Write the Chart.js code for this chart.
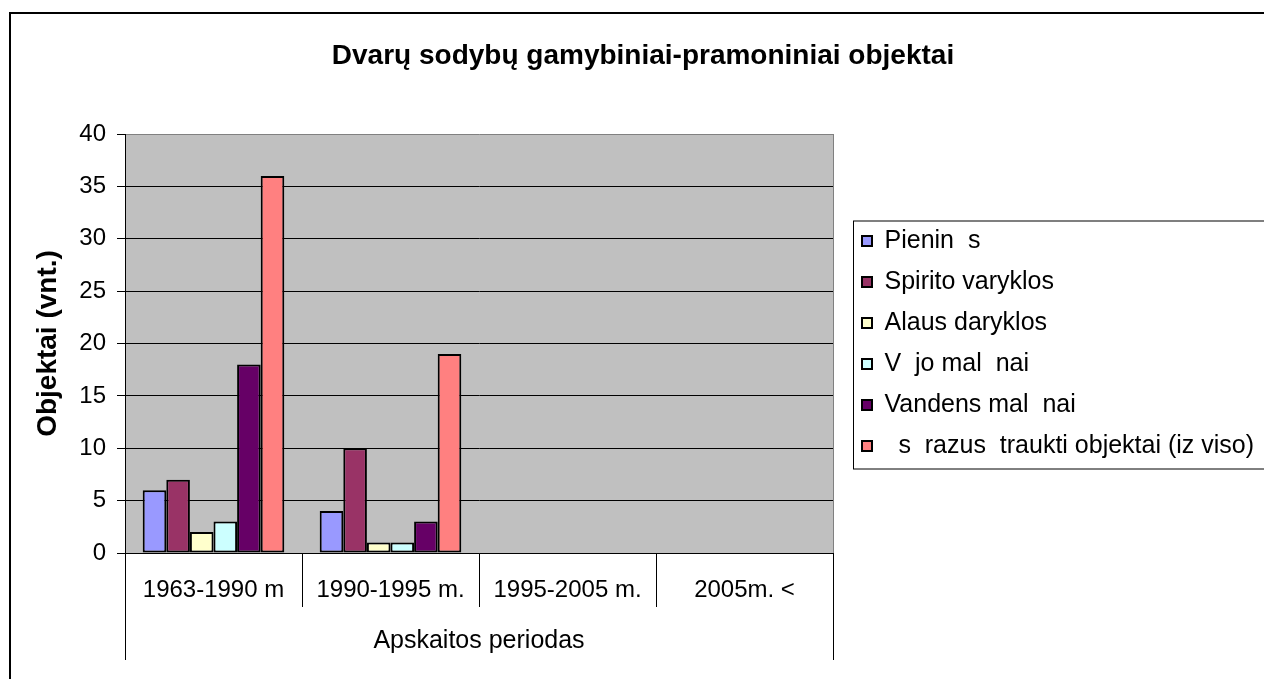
<!DOCTYPE html>
<html lang="lt">
<head>
  <meta charset="UTF-8">
  <title>Dvarų sodybų gamybiniai-pramoniniai objektai</title>
  <script src="https://cdn.jsdelivr.net/npm/chart.js"></script>
  <style>
    body { margin: 0; background: #fff; }
    #wrap { width: 1264px; height: 679px; }
  </style>
</head>
<body>
  <div id="wrap"><canvas id="chart" width="1264" height="679"></canvas></div>
  <script>
    // duomenys
    var periods = ['1963-1990 m', '1990-1995 m.', '1995-2005 m.', '2005m. <'];
    var seriesNames = ['Pienin  s', 'Spirito varyklos', 'Alaus daryklos', 'V  jo mal  nai', 'Vandens mal  nai', '  s  razus  traukti objektai (iz viso)'];
    var pieninesVals = [6, 4, null, null];
    var spiritoVals = [7, 10, null, null];
    var alausVals = [2, 1, null, null];
    var vejoVals = [3, 1, null, null];
    var vandensVals = [18, 3, null, null];
    var isVisoVals = [36, 19, null, null];
    var yMin = 0, yMax = 40, yStep = 5;

    var colors = ['#9999FF', '#993366', '#FFFFCC', '#CCFFFF', '#660066', '#FF8080'];
    var FONT = "'Liberation Sans', Arial, sans-serif";
    var LEGEND_W = 431;

    var allVals = [pieninesVals, spiritoVals, alausVals, vejoVals, vandensVals, isVisoVals];
    var datasets = allVals.map(function (vals, i) {
      return {
        label: seriesNames[i],
        data: vals,
        backgroundColor: colors[i],
        borderColor: '#000',
        borderWidth: 2,
        borderSkipped: false,
        categoryPercentage: 0.8,
        barPercentage: 1
      };
    });

    // fonas, rėmeliai ir antro lygio ašies linijos
    var decor = {
      id: 'decor',
      beforeLayout: function (chart) {
        var lg = chart.legend;
        if (lg && !lg._fixed) {
          var fit = lg.fit;
          lg.fit = function () { fit.call(this); this.width = LEGEND_W; };
          lg._fixed = true;
        }
      },
      afterLayout: function (chart) {
        chart.legend.left += 13;
        chart.legend.right += 13;
        chart.titleBlock.left += 11;
        chart.titleBlock.right += 11;
      },
      beforeDraw: function (chart) {
        var ctx = chart.ctx, a = chart.chartArea;
        ctx.save();
        ctx.fillStyle = '#fff';
        ctx.fillRect(0, 0, chart.width, chart.height);
        ctx.strokeStyle = '#000';
        ctx.lineWidth = 2;
        ctx.strokeRect(10, 13, chart.width + 40, chart.height + 40);
        ctx.fillStyle = '#C0C0C0';
        ctx.fillRect(a.left, a.top, a.right - a.left, a.bottom - a.top);
        ctx.restore();
      },
      afterDraw: function (chart) {
        var ctx = chart.ctx, a = chart.chartArea;
        ctx.save();
        ctx.lineWidth = 1;
        ctx.strokeStyle = '#808080';
        ctx.beginPath();
        ctx.moveTo(a.right + 0.5, a.top);
        ctx.lineTo(a.right + 0.5, a.bottom);
        ctx.stroke();
        ctx.strokeStyle = '#000';
        ctx.beginPath();
        ctx.moveTo(a.left + 0.5, a.bottom);
        ctx.lineTo(a.left + 0.5, a.bottom + 107);
        ctx.moveTo(a.right + 0.5, a.bottom);
        ctx.lineTo(a.right + 0.5, a.bottom + 107);
        ctx.stroke();
        var hb = chart.legend.legendHitBoxes;
        if (hb && hb.length) {
          var top = hb[0].top - 8;
          var last = hb[hb.length - 1];
          var bottom = last.top + last.height + 10;
          ctx.strokeRect(hb[0].left - 8.5, top + 0.5, chart.width, bottom - top);
        }
        ctx.restore();
      }
    };

    new Chart(document.getElementById('chart').getContext('2d'), {
      type: 'bar',
      data: { labels: periods, datasets: datasets },
      plugins: [decor],
      options: {
        responsive: false,
        animation: false,
        devicePixelRatio: 1,
        layout: { padding: 0 },
        plugins: {
          title: {
            display: true,
            text: 'Dvarų sodybų gamybiniai-pramoniniai objektai',
            color: '#000',
            font: { family: FONT, size: 28, weight: 'bold' },
            padding: { top: 39, bottom: 61.4 }
          },
          legend: {
            position: 'right',
            fullSize: false,
            labels: {
              color: '#000',
              font: { family: FONT, size: 25 },
              boxWidth: 10,
              boxHeight: 10,
              padding: 16
            }
          },
          tooltip: { enabled: false }
        },
        scales: {
          x: {
            afterFit: function (scale) { scale.height = 126; },
            grid: {
              display: true,
              drawOnChartArea: false,
              drawTicks: true,
              tickLength: 54,
              offset: true,
              color: '#000'
            },
            border: { display: true, color: '#000', width: 1 },
            ticks: {
              color: '#000',
              font: { family: FONT, size: 24 },
              padding: -31.4,
              maxRotation: 0,
              autoSkip: false
            },
            title: {
              display: true,
              text: 'Apskaitos periodas',
              color: '#000',
              font: { family: FONT, size: 25 },
              padding: { top: 0, bottom: 23 }
            }
          },
          y: {
            min: yMin,
            max: yMax,
            afterFit: function (scale) { scale.width = 125; },
            grid: {
              color: function (c) { return c.tick && c.tick.value === yMax ? '#808080' : '#000'; },
              tickColor: '#000',
              tickLength: 8
            },
            border: { display: true, color: '#000', width: 1 },
            ticks: {
              stepSize: yStep,
              color: '#000',
              font: { family: FONT, size: 24 },
              padding: 11
            },
            title: {
              display: true,
              text: 'Objektai (vnt.)',
              color: '#000',
              font: { family: FONT, size: 28, weight: 'bold' },
              padding: { top: 31, bottom: 0 }
            }
          }
        }
      }
    });
  </script>
</body>
</html>
